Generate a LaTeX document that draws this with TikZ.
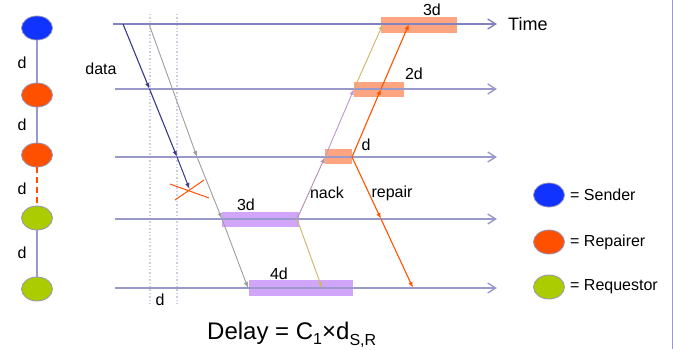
\documentclass[tikz,border=0pt]{standalone}
\usepackage{fontspec}
\setmainfont{Liberation Sans}
\usetikzlibrary{arrows.meta,shapes.geometric}
\definecolor{lav}{RGB}{153,153,204}
\definecolor{lavdark}{RGB}{130,130,190}
\definecolor{dotc}{RGB}{205,205,228}
\definecolor{sblue}{RGB}{17,51,255}
\definecolor{sorange}{RGB}{255,80,0}
\definecolor{sgreen}{RGB}{170,204,0}
\definecolor{edgec}{RGB}{150,150,185}
\definecolor{navy}{RGB}{60,60,140}
\definecolor{grayc}{RGB}{160,160,160}
\definecolor{salmon}{RGB}{252,165,128}
\definecolor{lilac}{RGB}{208,165,250}
\definecolor{nacklow}{RGB}{180,145,170}
\definecolor{nackmid}{RGB}{195,155,205}
\definecolor{nackhead}{RGB}{165,105,240}
\definecolor{tan}{RGB}{210,180,110}
\definecolor{repc}{RGB}{255,85,0}
\tikzset{
  lbl/.style={inner sep=0pt,font=\fontsize{16}{19}\selectfont},
  proc/.style={ellipse,draw=edgec,line width=0.8pt,minimum width=31pt,minimum height=24pt,inner sep=0pt},
  tline/.style={draw=lav,line width=1.6pt,-{Straight Barb[length=8pt,width=10pt,line width=1.4pt]}},
  msg/.style={line width=1.1pt,-{Latex[length=6pt,width=4.5pt]}},
  dotv/.style={draw=dotc,line width=1.4pt,dotted},
  chain/.style={draw=lav,line width=1.3pt},
  pbox/.style={fill=lilac,draw=none},
  obox/.style={fill=salmon,draw=none}
}
\begin{document}
\begin{tikzpicture}[x=1pt,y=-1pt]
\useasboundingbox (0,0) rectangle (673,349);
\draw[draw=lav,line width=1pt] (672,0) -- (672,349);

% dotted verticals
\coordinate (v1t) at (150,14); \coordinate (v1b) at (150,304);
\coordinate (v2t) at (177,14); \coordinate (v2b) at (177,304);
\draw[dotv] (v1t) -- (v1b);
\draw[dotv] (v2t) -- (v2b);

% boxes
\fill[pbox] (222,212) rectangle (299,227);
\fill[pbox] (249,280) rectangle (353,296);
\fill[obox] (325,149) rectangle (352,164);
\fill[obox] (354,82) rectangle (404,97);
\fill[obox] (381,17) rectangle (457,33);

% timelines
\coordinate (t1a) at (113,24); \coordinate (t1b) at (497,24);
\coordinate (t2a) at (115,89); \coordinate (t2b) at (497,89);
\coordinate (t3a) at (115,157); \coordinate (t3b) at (497,157);
\coordinate (t4a) at (115,219); \coordinate (t4b) at (497,219);
\coordinate (t5a) at (115,288); \coordinate (t5b) at (497,288);
\draw[tline,draw=lavdark,line width=1.1pt] (t1a) -- (t1b);
\draw[tline] (t2a) -- (t2b);
\draw[tline] (t3a) -- (t3b);
\draw[tline] (t4a) -- (t4b);
\draw[tline] (t5a) -- (t5b);
\node[lbl,font=\fontsize{18}{21}\selectfont,anchor=west] (time) at (508,24) {Time};

% left chain
\node[proc,fill=sblue] (s1) at (37,28) {};
\node[proc,fill=sorange] (s2) at (37,95) {};
\node[proc,fill=sorange] (s3) at (37,155) {};
\node[proc,fill=sgreen] (s4) at (37,218) {};
\node[proc,fill=sgreen] (s5) at (37,289) {};
\draw[chain] (s1) -- (s2);
\draw[chain] (s2) -- (s3);
\draw[draw=sorange,line width=1.3pt,dash pattern=on 6pt off 4pt] (s3) -- (s4);
\draw[chain] (s4) -- (s5);
\node[lbl] (d1) at (22,63) {d};
\node[lbl] (d2) at (22,125) {d};
\node[lbl] (d3) at (22,189) {d};
\node[lbl] (d4) at (22,253) {d};

% data
\node[lbl] (data) at (101,69) {data};
\coordinate (D0) at (123,24); \coordinate (D1) at (149.5,89);
\coordinate (D2) at (177,157); \coordinate (D3) at (189.5,189);
\draw[msg,draw=navy,fill=navy] (D0) -- (D1);
\draw[msg,draw=navy,fill=navy] (D1) -- (D2);
\draw[msg,draw=navy,fill=navy,line width=1pt] (D2) -- (D3);
% cross
\coordinate (x1a) at (170,184); \coordinate (x1b) at (209,198);
\coordinate (x2a) at (175,200); \coordinate (x2b) at (204,180);
\draw[draw=sorange,line width=1pt] (x1a) -- (x1b);
\draw[draw=sorange,line width=1pt] (x2a) -- (x2b);

% second (gray) transmission
\coordinate (G0) at (149,24); \coordinate (G1) at (197,157);
\coordinate (G2) at (222,219); \coordinate (G3) at (248,288);
\draw[msg,draw=grayc,fill=grayc,line width=0.9pt] (G0) -- (G1);
\draw[msg,draw=grayc,fill=grayc,line width=0.9pt] (G1) -- (G2);
\draw[msg,draw=grayc,fill=grayc,line width=0.9pt] (G2) -- (G3);

% nack
\coordinate (N0) at (297,219); \coordinate (N1) at (325,157);
\coordinate (N2) at (354,89); \coordinate (N3) at (383,24);
\coordinate (N4) at (322,288);
\draw[msg,draw=nacklow,fill=nackhead,line width=0.9pt] (N0) -- (N1);
\draw[msg,draw=nackmid,fill=nackhead,line width=0.9pt] (N1) -- (N2);
\draw[msg,draw=tan,fill=tan,line width=0.9pt] (N2) -- (N3);
\draw[msg,draw=tan,fill=tan,line width=0.9pt] (N0) -- (N4);
\node[lbl] (nack) at (327,193) {nack};

% repair
\coordinate (R0) at (352,157); \coordinate (R1) at (381,89);
\coordinate (R2) at (409,24); \coordinate (R3) at (381,219);
\coordinate (R4) at (413,288);
\draw[msg,draw=repc,fill=repc] (R0) -- (R1);
\draw[msg,draw=repc,fill=repc] (R1) -- (R2);
\draw[msg,draw=repc,fill=repc] (R0) -- (R3);
\draw[msg,draw=repc,fill=repc] (R3) -- (R4);
\node[lbl] (repair) at (392,193) {repair};

% box labels
\node[lbl] (l3top) at (432,10) {3d};
\node[lbl] (l2d) at (414,74) {2d};
\node[lbl] (l1d) at (366,145) {d};
\node[lbl] (l3d) at (246,205) {3d};
\node[lbl] (l4d) at (279,274) {4d};
\node[lbl] (ld) at (160,300) {d};

% legend
\node[proc,fill=sblue] (ls) at (549,195) {};
\node[proc,fill=sorange] (lr) at (549,242) {};
\node[proc,fill=sgreen] (lq) at (549,287) {};
\node[lbl,anchor=west] (lst) at (570,195) {= Sender};
\node[lbl,anchor=west] (lrt) at (570,242) {= Repairer};
\node[lbl,anchor=west] (lqt) at (570,287) {= Requestor};

% formula
\node[inner sep=0pt,font=\fontsize{24}{28}\selectfont,anchor=base west] (delay) at (207,339)
  {Delay = C\raisebox{-5pt}{\fontsize{16}{16}\selectfont 1}×d\raisebox{-6pt}{\fontsize{16}{16}\selectfont S,R}};
\end{tikzpicture}
\end{document}
